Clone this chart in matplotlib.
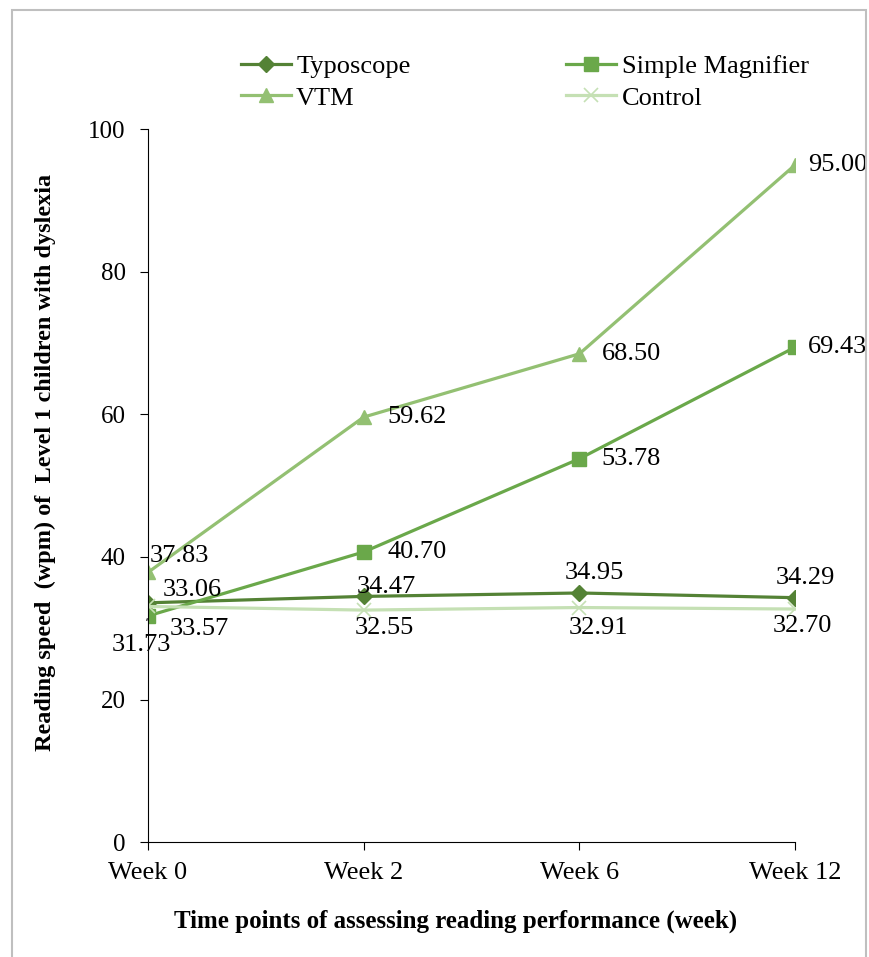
import matplotlib.pyplot as plt
from matplotlib.patches import Rectangle

plt.rcParams['font.family'] = ['Liberation Serif', 'DejaVu Serif']

# reading speed data
weeks = ['Week 0', 'Week 2', 'Week 6', 'Week 12']
typoscope = [33.57, 34.47, 34.95, 34.29]
magnifier = [31.73, 40.70, 53.78, 69.43]
vtm = [37.83, 59.62, 68.50, 95.00]
control = [33.06, 32.55, 32.91, 32.70]

c_typo = '#548235'
c_mag = '#6aa84a'
c_vtm = '#93c072'
c_ctrl = '#c5e0b4'

fig = plt.figure(figsize=(8.7, 9.57), dpi=100)
ax = fig.add_axes([0.170, 0.120, 0.744, 0.745])
xs = list(range(len(weeks)))

l1, = ax.plot(xs, typoscope, color=c_typo, lw=2.3, marker='D', ms=8, label='Typoscope')
l2, = ax.plot(xs, magnifier, color=c_mag, lw=2.3, marker='s', ms=10, label='Simple Magnifier')
l3, = ax.plot(xs, vtm, color=c_vtm, lw=2.3, marker='^', ms=10, label='VTM')
l4, = ax.plot(xs, control, color=c_ctrl, lw=2.3, marker='x', ms=10, mew=1.2, label='Control')

fs = 19
right_off = [None, 17, 16, 9]
# data labels (offsets in points)
for i, v in enumerate(vtm):
    if i == 0:
        ax.annotate('%.2f' % v, (i, v), xytext=(1, 12), textcoords='offset points',
                    ha='left', va='center', fontsize=fs)
    else:
        ax.annotate('%.2f' % v, (i, v), xytext=(right_off[i], 0), textcoords='offset points',
                    ha='left', va='center', fontsize=fs)
for i, v in enumerate(magnifier):
    if i == 0:
        ax.annotate('%.2f' % v, (i, v), xytext=(-5, -21), textcoords='offset points',
                    ha='center', va='center', fontsize=fs,
                    arrowprops=dict(arrowstyle='-', color='black', lw=0.8,
                                    shrinkA=8, shrinkB=2))
    else:
        ax.annotate('%.2f' % v, (i, v), xytext=(right_off[i], 0), textcoords='offset points',
                    ha='left', va='center', fontsize=fs)
typo_off = [(37, -19), (16, 6.5), (11, 14.5), (7, 14)]
for i, v in enumerate(typoscope):
    ax.annotate('%.2f' % v, (i, v), xytext=typo_off[i], textcoords='offset points',
                ha='center', va='center', fontsize=fs)
ctrl_off = [(32, 12), (15, -13), (14, -15), (5, -12)]
for i, v in enumerate(control):
    ax.annotate('%.2f' % v, (i, v), xytext=ctrl_off[i], textcoords='offset points',
                ha='center', va='center', fontsize=fs)

ax.set_xlim(0, 3)
ax.set_ylim(0, 100)
ax.set_xticks(xs)
ax.set_xticklabels(weeks, fontsize=19)
ax.set_yticks([0, 20, 40, 60, 80, 100])
ax.tick_params(axis='y', labelsize=18, direction='out', length=6, pad=10)
ax.tick_params(axis='x', direction='out', length=6, pad=8)
ax.spines['top'].set_visible(False)
ax.spines['right'].set_visible(False)
ax.set_xlabel('Time points of assessing reading performance (week)',
              fontsize=18, fontweight='bold')
ax.xaxis.set_label_coords(0.475, -0.094)
ax.set_ylabel('Reading speed  (wpm) of  Level 1 children with dyslexia',
              fontsize=17.5, fontweight='bold')
ax.yaxis.set_label_coords(-0.142, 0.533)

fig.legend(handles=[l1, l3, l2, l4], ncol=2, loc='center',
           bbox_to_anchor=(0.603, 0.914), frameon=False, fontsize=19,
           handlelength=1.9, columnspacing=5.9, labelspacing=0.3,
           handletextpad=0.2, borderpad=0)

fig.patches.append(Rectangle((12 / 870, -0.01), 854 / 870, 1 - 10 / 957 + 0.01,
                             transform=fig.transFigure, fill=False,
                             edgecolor='#bfbfbf', lw=1.5))

fig.savefig('out.png', dpi=100)
